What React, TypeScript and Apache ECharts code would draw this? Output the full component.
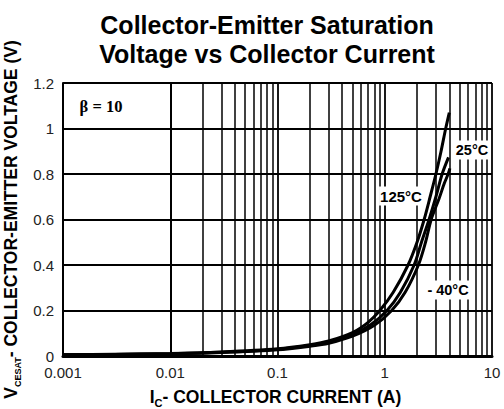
import React, { useEffect, useRef } from "react";
import * as echarts from "echarts";

// Collector current (A), VCE(sat) (V)
const curve125: [number, number][] = [
  [0.001, 0.006], [0.003, 0.008], [0.01, 0.011], [0.03, 0.018], [0.1, 0.032],
  [0.2, 0.05], [0.3, 0.066], [0.5, 0.103], [0.7, 0.148], [0.9, 0.2],
  [1.2, 0.28], [1.65, 0.4], [2.0, 0.5], [2.33, 0.6], [2.65, 0.7],
  [3.0, 0.8], [3.35, 0.9], [3.7, 1.0], [4.0, 1.07],
];
const curve25: [number, number][] = [
  [0.001, 0.005], [0.003, 0.007], [0.01, 0.01], [0.03, 0.016], [0.1, 0.029],
  [0.2, 0.046], [0.3, 0.06], [0.5, 0.094], [0.75, 0.14], [1.05, 0.2],
  [1.4, 0.28], [1.88, 0.4], [2.2, 0.5], [2.59, 0.6], [3.0, 0.7],
  [3.43, 0.8], [3.93, 0.873],
];
const curveM40: [number, number][] = [
  [0.001, 0.005], [0.003, 0.0065], [0.01, 0.009], [0.03, 0.015], [0.1, 0.027],
  [0.2, 0.043], [0.3, 0.056], [0.5, 0.087], [0.8, 0.135], [1.16, 0.2],
  [1.55, 0.28], [2.06, 0.4], [2.4, 0.5], [2.71, 0.6], [3.2, 0.69],
  [3.6, 0.76], [3.9, 0.8], [4.05, 0.825],
];
const xTickLabels = ["0.001", "0.01", "0.1", "1", "10"];
const yTickLabels = ["0", "0.2", "0.4", "0.6", "0.8", "1", "1.2"];
const decades = [0.001, 0.01, 0.1, 1];
const minorMultipliers = [2, 3, 4, 5, 6, 7, 8, 9];

const FONT = "'Liberation Sans', Arial, sans-serif";

export default function App() {
  const ref = useRef<HTMLDivElement>(null);
  useEffect(() => {
    if (!ref.current) return;
    const chart = echarts.init(ref.current, undefined, { renderer: "svg" });
    const minorLines: { xAxis: number }[] = [];
    decades.forEach((d) => minorMultipliers.forEach((m) => minorLines.push({ xAxis: +(d * m).toPrecision(3) })));
    const lineStyle = { color: "#000", width: 3 };
    chart.setOption({
      animation: false,
      title: {
        text: "Collector-Emitter Saturation\nVoltage vs Collector Current",
        left: 262,
        top: 5,
        textAlign: "center",
        textStyle: { fontFamily: FONT, fontSize: 25, fontWeight: "bold", color: "#000", lineHeight: 29 },
      },
      grid: { left: 63, top: 83, right: 12, bottom: 53, show: false, containLabel: false, outerBoundsMode: "none" },
      xAxis: {
        type: "log",
        logBase: 10,
        min: 0.001,
        max: 10,
        name: "{m|I}{s|C}{m|- COLLECTOR CURRENT (A)}",
        nameLocation: "middle",
        nameGap: 30,
        nameTextStyle: {
          padding: [0, 4, 0, 0],
          rich: {
            m: { fontFamily: FONT, fontSize: 17.5, fontWeight: "bold", color: "#000", lineHeight: 22, verticalAlign: "middle" },
            s: { fontFamily: FONT, fontSize: 11, fontWeight: "bold", color: "#000", lineHeight: 12, verticalAlign: "bottom" },
          },
        },
        axisLine: { show: true, lineStyle: { color: "#000", width: 3 } },
        axisTick: { show: false },
        axisLabel: {
          fontFamily: FONT,
          fontSize: 15,
          color: "#222",
          margin: 9,
          formatter: (v: number) => xTickLabels[Math.round(Math.log10(v)) + 3] ?? String(v),
        },
        splitLine: { show: true, lineStyle: { color: "#000", width: 1.8 } },
      },
      yAxis: {
        type: "value",
        min: 0,
        max: 1.2,
        interval: 0.2,
        name: "{m|V}{s|CESAT}{m|- COLLECTOR-EMITTER VOLTAGE (V)}",
        nameLocation: "middle",
        nameGap: 36,
        nameTextStyle: {
          padding: [0, 0, 0, 0],
          rich: {
            m: { fontFamily: FONT, fontSize: 17.5, fontWeight: "bold", color: "#000", lineHeight: 22, verticalAlign: "middle" },
            s: { fontFamily: FONT, fontSize: 9, fontWeight: "bold", color: "#000", lineHeight: 10, verticalAlign: "bottom" },
          },
        },
        axisLine: { show: true, lineStyle: { color: "#000", width: 2 } },
        axisTick: { show: false },
        axisLabel: {
          fontFamily: FONT,
          fontSize: 15,
          color: "#222",
          margin: 9,
          formatter: (v: number) => yTickLabels[Math.round(v / 0.2)] ?? String(v),
        },
        splitLine: { show: true, lineStyle: { color: "#000", width: 2 } },
      },
      series: [
        {
          type: "line",
          data: [],
          silent: true,
          markLine: {
            symbol: "none",
            silent: true,
            label: { show: false },
            lineStyle: { color: "#000", width: 1.5, type: "solid" },
            data: minorLines,
          },
        },
        { name: "125°C", type: "line", data: curve125, showSymbol: false, smooth: 0.3, lineStyle, z: 5 },
        { name: "25°C", type: "line", data: curve25, showSymbol: false, smooth: 0.3, lineStyle, z: 5 },
        { name: "-40°C", type: "line", data: curveM40, showSymbol: false, smooth: 0.3, lineStyle, z: 5 },
      ],
      graphic: [
        {
          type: "text", x: 101, y: 106, z: 10,
          style: {
            text: "β = 10", fontFamily: "'Liberation Serif', 'Times New Roman', serif", fontSize: 16.5, fontWeight: "bold",
            fill: "#000", align: "center", verticalAlign: "middle", backgroundColor: "#fff", padding: [2, 3],
          },
        },
        {
          type: "text", x: 401, y: 196, z: 10,
          style: {
            text: "125°C", fontFamily: FONT, fontSize: 15, fontWeight: "bold",
            fill: "#000", align: "center", verticalAlign: "middle", backgroundColor: "#fff", padding: [2, 1],
          },
        },
        {
          type: "text", x: 472, y: 150, z: 10,
          style: {
            text: "25°C", fontFamily: FONT, fontSize: 14.5, fontWeight: "bold",
            fill: "#000", align: "center", verticalAlign: "middle", backgroundColor: "#fff", padding: [2, 2],
          },
        },
        {
          type: "text", x: 448, y: 290, z: 10,
          style: {
            text: "- 40°C", fontFamily: FONT, fontSize: 14.5, fontWeight: "bold",
            fill: "#000", align: "center", verticalAlign: "middle", backgroundColor: "#fff", padding: [2, 1],
          },
        },
      ],
    });
    return () => chart.dispose();
  }, []);
  return <div ref={ref} style={{ width: 504, height: 409, position: "absolute", left: 0, top: 0, background: "#fff" }} />;
}
